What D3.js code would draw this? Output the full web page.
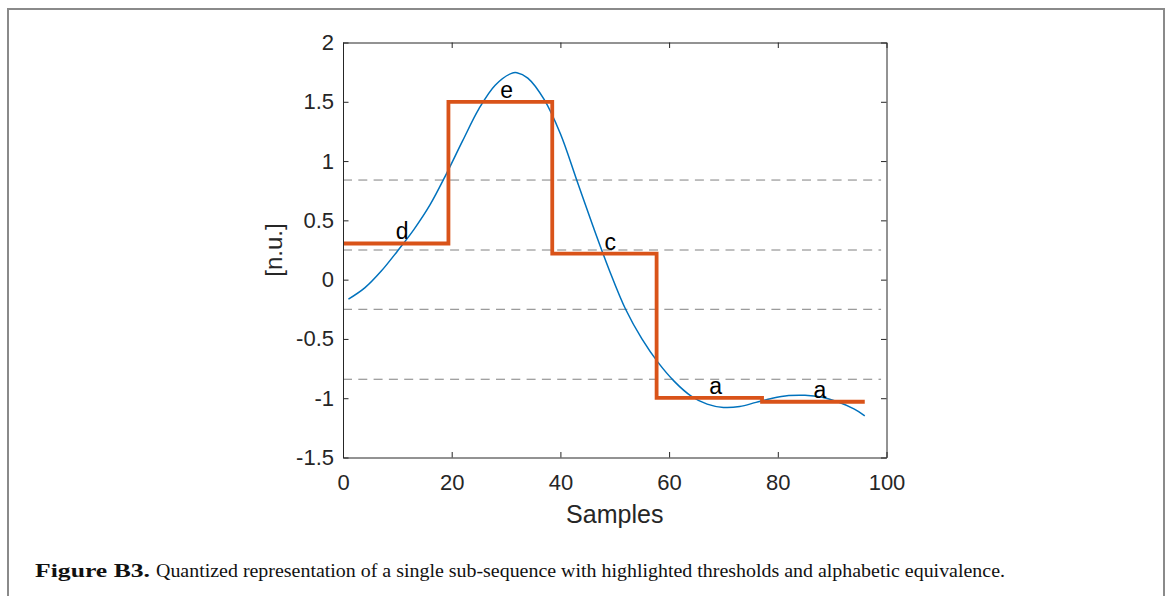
<!DOCTYPE html>
<html>
<head>
<meta charset="utf-8">
<script src="https://cdn.jsdelivr.net/npm/d3@7"></script>
<style>
  html, body { margin: 0; padding: 0; background: #fff; }
  svg { display: block; }
  .tick text { font-family: "Liberation Sans", Arial, Helvetica, sans-serif; }
</style>
</head>
<body>
<svg id="fig" width="1172" height="596"></svg>
<script>
// Sub-sequence samples (sample index, normalized value)
const sampleX = [1, 4, 7, 10, 13, 16, 19, 22, 25, 28, 31, 32, 34, 37, 40, 43, 46, 49, 52, 55, 58, 61, 64, 67, 70, 73, 76, 79, 82, 85, 88, 91, 94, 96];
const sampleY = [-0.165, -0.07, 0.07, 0.24, 0.42, 0.63, 0.89, 1.17, 1.44, 1.64, 1.74, 1.745, 1.70, 1.52, 1.23, 0.84, 0.45, 0.08, -0.25, -0.50, -0.70, -0.86, -0.98, -1.05, -1.078, -1.07, -1.035, -1.00, -0.978, -0.975, -0.99, -1.03, -1.09, -1.148];

// Quantized segments: edges, mean level and assigned symbol
const segEdges = [0, 19.4, 38.5, 57.7, 77.1, 96];
const segLevels = [0.305, 1.50, 0.22, -0.997, -1.03];
const segSymbols = ["d", "e", "c", "a", "a"];

// Breakpoints between symbols
const thresholds = [0.84, 0.25, -0.25, -0.84];

const xTicks = [0, 20, 40, 60, 80, 100];
const yTicks = [-1.5, -1, -0.5, 0, 0.5, 1, 1.5, 2];

(function draw() {
  const svg = d3.select("#fig");
  const pLeft = 343, pRight = 886.5, pTop = 42.5, pBottom = 457.5;
  const sans = '"Liberation Sans", Arial, Helvetica, sans-serif';
  const serif = '"Liberation Serif", "Times New Roman", serif';

  // figure frame
  svg.append("rect")
    .attr("x", 8).attr("y", 9).attr("width", 1156).attr("height", 640)
    .attr("fill", "none").attr("stroke", "#8a8a8a").attr("stroke-width", 2);

  const x = d3.scaleLinear().domain([0, 100]).range([pLeft, pRight]);
  const y = d3.scaleLinear().domain([-1.5, 2]).range([pBottom, pTop]);

  // threshold lines
  svg.append("g").selectAll("line").data(thresholds).join("line")
    .attr("x1", x(0)).attr("x2", x(99))
    .attr("y1", d => y(d)).attr("y2", d => y(d))
    .attr("stroke", "#808080").attr("stroke-width", 1)
    .attr("stroke-dasharray", "9,6.3");

  // original signal
  const line = d3.line().x((d, i) => x(sampleX[i])).y(d => y(d)).curve(d3.curveCatmullRom.alpha(0.5));
  svg.append("path").attr("d", line(sampleY))
    .attr("fill", "none").attr("stroke", "#0072BD").attr("stroke-width", 1.5);

  // quantized staircase
  const stairPts = segLevels.map((v, i) => [segEdges[i], v]);
  stairPts.push([segEdges[segEdges.length - 1], segLevels[segLevels.length - 1]]);
  const stair = d3.line().x(d => x(d[0])).y(d => y(d[1])).curve(d3.curveStepAfter);
  svg.append("path").attr("d", stair(stairPts))
    .attr("fill", "none").attr("stroke", "#D95319").attr("stroke-width", 3.8)
    .attr("stroke-linejoin", "miter");

  // symbol labels
  svg.append("g").selectAll("text").data(segSymbols).join("text")
    .attr("x", (d, i) => x((segEdges[i] + segEdges[i + 1]) / 2))
    .attr("y", (d, i) => y(segLevels[i]) - 4)
    .attr("font-family", sans).attr("font-size", 23).attr("fill", "#000")
    .text(d => d);

  // axes with inward ticks
  const fmt = d => String(d);
  const axisColor = "#262626";
  function styleAxis(g) {
    g.selectAll(".domain").attr("stroke", axisColor);
    g.selectAll(".tick line").attr("stroke", axisColor);
    g.selectAll(".tick text").attr("fill", axisColor).attr("font-size", 22);
  }
  svg.append("g").attr("transform", `translate(0,${pBottom})`)
    .call(d3.axisBottom(x).tickValues(xTicks).tickFormat(fmt).tickSizeInner(-5.5).tickSizeOuter(0).tickPadding(17))
    .call(styleAxis);
  svg.append("g").attr("transform", `translate(0,${pTop})`)
    .call(d3.axisTop(x).tickValues(xTicks).tickFormat("").tickSizeInner(-5.5).tickSizeOuter(0))
    .call(styleAxis);
  svg.append("g").attr("transform", `translate(${pLeft},0)`)
    .call(d3.axisLeft(y).tickValues(yTicks).tickFormat(fmt).tickSizeInner(-5.5).tickSizeOuter(0).tickPadding(9))
    .call(styleAxis);
  svg.append("g").attr("transform", `translate(${pRight},0)`)
    .call(d3.axisRight(y).tickValues(yTicks).tickFormat("").tickSizeInner(-5.5).tickSizeOuter(0))
    .call(styleAxis);

  // axis titles
  svg.append("text")
    .attr("x", (pLeft + pRight) / 2).attr("y", 523)
    .attr("text-anchor", "middle").attr("font-family", sans).attr("font-size", 25).attr("fill", axisColor)
    .text("Samples");
  svg.append("text")
    .attr("transform", `translate(282,${(pTop + pBottom) / 2}) rotate(-90)`)
    .attr("text-anchor", "middle").attr("font-family", sans).attr("font-size", 24).attr("fill", axisColor)
    .text("[n.u.]");

  // caption
  const cap = svg.append("text").attr("y", 577).attr("font-family", serif).attr("font-size", 19).attr("fill", "#111");
  cap.append("tspan").attr("x", 35).attr("font-weight", "bold")
    .attr("textLength", 115).attr("lengthAdjust", "spacingAndGlyphs").text("Figure B3.");
  cap.append("tspan").attr("x", 156)
    .attr("textLength", 849).attr("lengthAdjust", "spacingAndGlyphs")
    .text("Quantized representation of a single sub-sequence with highlighted thresholds and alphabetic equivalence.");
})();
</script>
</body>
</html>
